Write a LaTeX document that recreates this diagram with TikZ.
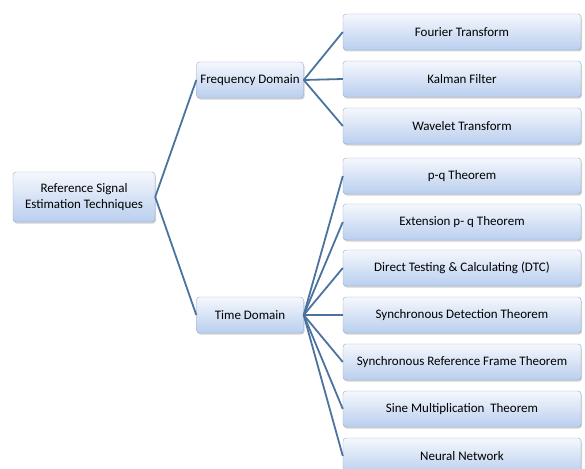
\documentclass[tikz,border=0pt]{standalone}
\usepackage{fontspec}
\setmainfont{Carlito}
\usetikzlibrary{shadows}
\definecolor{boxline}{RGB}{150,170,200}
\definecolor{boxtop}{RGB}{245,248,253}
\definecolor{boxbottom}{RGB}{185,206,238}
\definecolor{linkblue}{RGB}{75,115,160}
\begin{document}
\begin{tikzpicture}[x=1pt,y=-1pt]

        \useasboundingbox (0,0) rectangle (585,468);

        \begin{scope}[every node/.style={draw=boxline,rounded corners=3pt,
            top color=boxtop,bottom color=boxbottom,
            drop shadow={shadow xshift=1pt,shadow yshift=-1.5pt,opacity=.35},
            minimum height=36pt,align=center,inner sep=1pt,
            font=\fontsize{13}{16}\selectfont}]
          \node[minimum width=142pt,minimum height=50pt] (root) at (84,197)
            {Reference Signal\\Estimation Techniques};
          \node[minimum width=107pt] (freq) at (250,80)  {Frequency Domain};
          \node[minimum width=107pt] (time) at (250,315) {Time Domain};
        \end{scope}

        \begin{scope}[every node/.style={draw=boxline,rounded corners=3pt,
            top color=boxtop,bottom color=boxbottom,
            drop shadow={shadow xshift=1pt,shadow yshift=-1.5pt,opacity=.35},
            minimum width=238pt,minimum height=36pt,inner sep=1pt,
            font=\fontsize{13}{16}\selectfont}]
          \node (f1) at (462,32)  {Fourier Transform};
          \node (f2) at (462,79)  {Kalman Filter};
          \node (f3) at (462,126) {Wavelet Transform};
          \node (t1) at (462,176) {p-q Theorem};
          \node (t2) at (462,222) {Extension p- q Theorem};
          \node (t3) at (462,268) {Direct Testing \& Calculating (DTC)};
          \node (t4) at (462,315) {Synchronous Detection Theorem};
          \node (t5) at (462,362) {Synchronous Reference Frame Theorem};
          \node (t6) at (462,409) {Sine Multiplication \ Theorem};
          \node (t7) at (462,456) {Neural Network};
        \end{scope}

        \begin{scope}[every path/.style={draw=linkblue,line width=1.8pt}]
          \path (root.east) edge (freq.west);
          \path (root.east) edge (time.west);
          \foreach \n in {f1,f2,f3}
            \path (freq.east) edge (\n.west);
          \foreach \n in {t1,t2,t3,t4,t5,t6,t7}
            \path (time.east) edge (\n.west);
        \end{scope}

      \end{tikzpicture}
\end{document}
